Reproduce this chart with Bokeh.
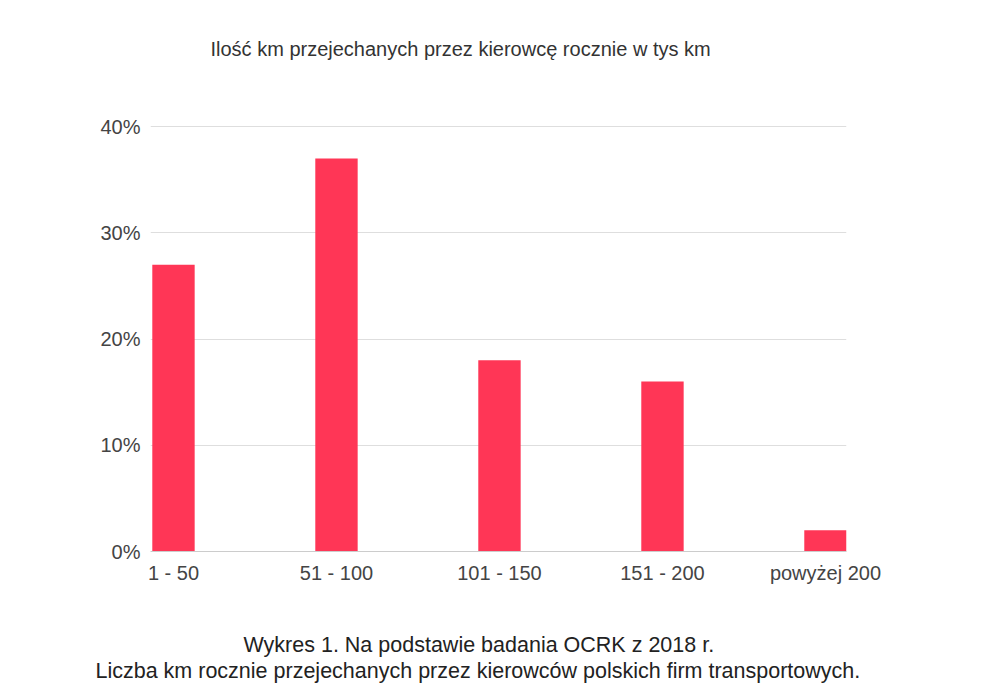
from bokeh.plotting import figure
from bokeh.models import Range1d, FixedTicker, NumeralTickFormatter, Label, Title, ColumnDataSource
from bokeh.embed import file_html
from bokeh.resources import INLINE

categories = ["1 - 50", "51 - 100", "101 - 150", "151 - 200", "powyżej 200"]
shares = [0.27, 0.37, 0.18, 0.16, 0.02]
y_ticks = [0.0, 0.1, 0.2, 0.3, 0.4]
title_text = "Ilość km przejechanych przez kierowcę rocznie w tys km"
caption_1 = "Wykres 1. Na podstawie badania OCRK z 2018 r."
caption_2 = "Liczba km rocznie przejechanych przez kierowców polskich firm transportowych."

FONT = "Liberation Sans"
idx = list(range(len(categories)))
src = ColumnDataSource(dict(x=idx, top=shares, cat=categories))

# frame extends above the 40% line to leave room for the chart title inside it
p = figure(width=984, height=684, output_backend="svg", toolbar_location=None,
           x_range=Range1d(-0.141, 4.129), y_range=Range1d(0, 0.5),
           min_border_left=150, min_border_right=138, min_border_top=20, min_border_bottom=133)
p.title.text = ""
p.outline_line_color = None
p.background_fill_color = "white"
p.border_fill_color = "white"

p.vbar(x="x", top="top", bottom=0, width=0.26, source=src, fill_color="#ff3656", line_color=None)

p.xgrid.grid_line_color = None
p.ygrid.grid_line_color = "#dedede"
p.ygrid.ticker = FixedTicker(ticks=y_ticks)

p.yaxis.ticker = FixedTicker(ticks=y_ticks)
p.yaxis.formatter = NumeralTickFormatter(format="0%")
p.yaxis.axis_line_color = None
p.yaxis.major_tick_line_color = None
p.yaxis.minor_tick_line_color = None
p.yaxis.major_tick_out = 0
p.yaxis.major_label_standoff = 10
p.yaxis.major_label_text_font = FONT
p.yaxis.major_label_text_font_size = "20px"
p.yaxis.major_label_text_color = "#444444"

p.xaxis.ticker = FixedTicker(ticks=idx)
p.xaxis.major_label_overrides = {i: c for i, c in zip(idx, categories)}
p.xaxis.axis_line_color = "#cccccc"
p.xaxis.major_tick_line_color = None
p.xaxis.minor_tick_line_color = None
p.xaxis.major_tick_out = 0
p.xaxis.major_label_standoff = 10
p.xaxis.major_label_text_font = FONT
p.xaxis.major_label_text_font_size = "20px"
p.xaxis.major_label_text_color = "#444444"

title = Label(text=title_text, x=60, y=503, x_units="screen", y_units="screen",
              text_align="left", text_baseline="middle",
              text_font=FONT, text_font_size="20px", text_color="#333333")
p.add_layout(title)

spacer = Title(text=" ", text_font_size="10px", standoff=31, align="left")
cap1 = Title(text=caption_1, align="left", offset=93, standoff=0, text_line_height=0.9,
             text_font=FONT, text_font_size="21.5px", text_font_style="normal", text_color="#222222")
cap2 = Title(text=caption_2, align="left", offset=-55, standoff=0, text_line_height=0.9,
             text_font=FONT, text_font_size="21.5px", text_font_style="normal", text_color="#222222")
p.add_layout(spacer, "below")
p.add_layout(cap1, "below")
p.add_layout(cap2, "below")

open("out.html", "w").write(file_html(p, INLINE))
